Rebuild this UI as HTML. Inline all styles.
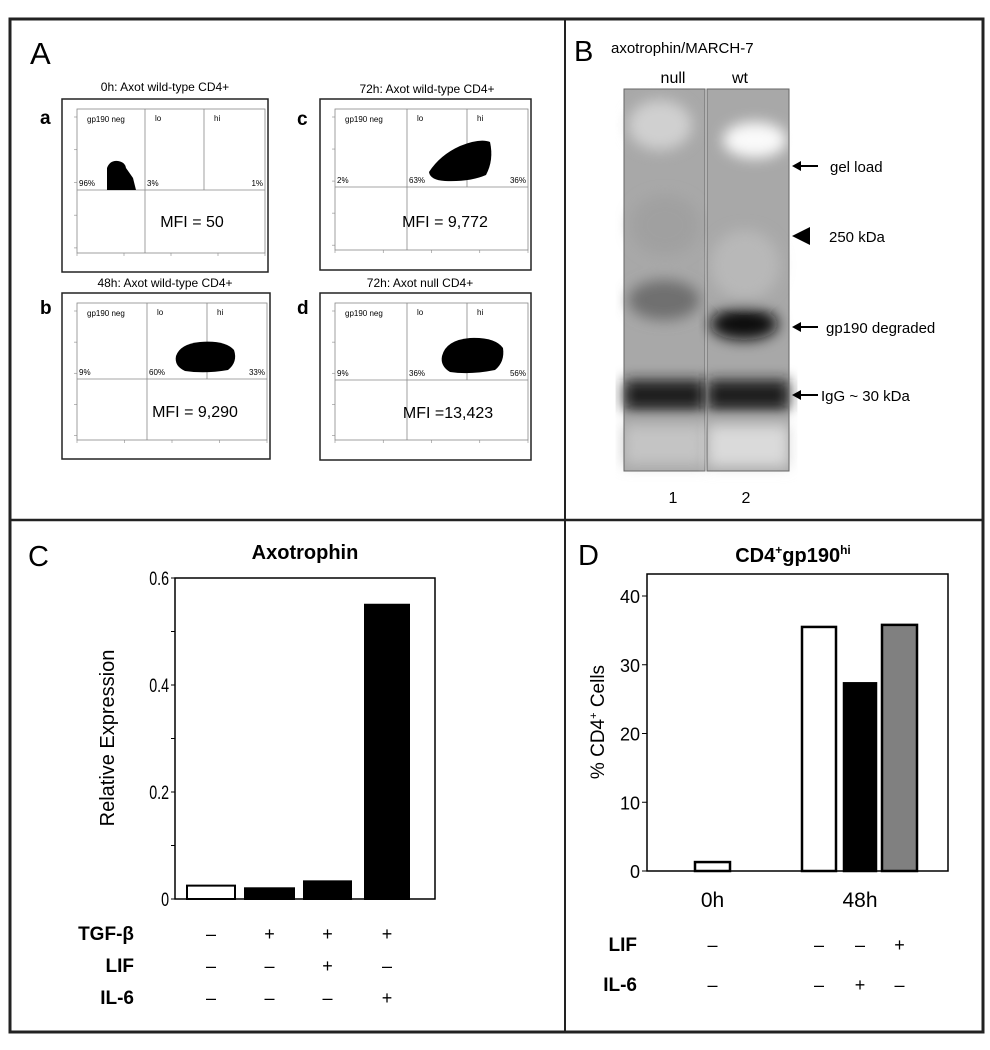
<!DOCTYPE html>
<html><head><meta charset="utf-8"><style>
html,body{margin:0;padding:0;background:#fff;}
svg{display:block;font-family:"Liberation Sans",Arial,sans-serif;}
</style></head><body>
<svg id="fig" width="990" height="1050" viewBox="0 0 990 1050">
<defs>
<filter id="blur6"><feGaussianBlur stdDeviation="7"/></filter>
</defs>
<rect x="0" y="0" width="990" height="1050" fill="#fff"/>
<g stroke="#222" fill="none">
<rect x="10" y="19" width="973" height="1013" stroke-width="3"/>
<line x1="565" y1="19" x2="565" y2="1032" stroke-width="2"/>
<line x1="10" y1="520" x2="983" y2="520" stroke-width="2.5"/>
</g>

<g>
<text x="30" y="64" font-size="31">A</text>
<g id="flowplots"></g>
</g>

<g>
<text x="574" y="61" font-size="29">B</text>
<text x="611" y="53" font-size="15">axotrophin/MARCH-7</text>
<text x="673" y="83" font-size="16" text-anchor="middle">null</text>
<text x="740" y="83" font-size="16" text-anchor="middle">wt</text>
<g>
<rect x="624" y="89" width="81" height="382" fill="#a8a8a8"/>
<g filter="url(#blur6)">
<ellipse cx="660" cy="125" rx="32" ry="25" fill="#d0d0d0"/>
<ellipse cx="665" cy="225" rx="35" ry="30" fill="#a0a0a0"/>
<ellipse cx="664" cy="300" rx="36" ry="20" fill="#707070"/>
<rect x="624" y="380" width="81" height="30" fill="#1a1a1a"/>
<rect x="624" y="425" width="81" height="40" fill="#c4c4c4"/>
</g>
<rect x="624" y="89" width="81" height="382" fill="none" stroke="#666"/>
</g>
<g>
<rect x="707" y="89" width="82" height="382" fill="#a8a8a8"/>
<g filter="url(#blur6)">
<ellipse cx="755" cy="140" rx="32" ry="18" fill="#fafafa"/>
<ellipse cx="745" cy="265" rx="35" ry="35" fill="#b8b8b8"/>
<ellipse cx="744" cy="324" rx="34" ry="16" fill="#111"/>
<rect x="707" y="380" width="82" height="30" fill="#1a1a1a"/>
<rect x="707" y="425" width="82" height="42" fill="#dadada"/>
</g>
<rect x="707" y="89" width="82" height="382" fill="none" stroke="#666"/>
</g>
<g font-size="15">
<line x1="797" y1="166" x2="818" y2="166" stroke="#000" stroke-width="2"/><path d="M792 166 l9 -5 v10z"/>
<text x="830" y="172">gel load</text>
<path d="M792 236 l18 -9 v18z"/><text x="829" y="242">250 kDa</text>
<line x1="797" y1="327" x2="818" y2="327" stroke="#000" stroke-width="2"/><path d="M792 327 l9 -5 v10z"/>
<text x="826" y="333">gp190 degraded</text>
<line x1="797" y1="395" x2="818" y2="395" stroke="#000" stroke-width="2"/><path d="M792 395 l9 -5 v10z"/>
<text x="821" y="401">IgG ~ 30 kDa</text>
</g>
<text x="673" y="503" font-size="16" text-anchor="middle">1</text>
<text x="746" y="503" font-size="16" text-anchor="middle">2</text>
</g>

<g>
<text x="28" y="566" font-size="29">C</text>
<text x="305" y="559" font-size="20" font-weight="bold" text-anchor="middle">Axotrophin</text>
<text transform="translate(114,738) rotate(-90)" font-size="20" text-anchor="middle">Relative Expression</text>
<g id="chartC"></g>
</g>

<g>
<text x="578" y="565" font-size="29">D</text>
<text x="793" y="562" font-size="20" font-weight="bold" text-anchor="middle">CD4<tspan font-size="12" dy="-8">+</tspan><tspan dy="8">gp190</tspan><tspan font-size="12" dy="-8">hi</tspan></text>
<text transform="translate(604,722) rotate(-90)" font-size="19" text-anchor="middle">% CD4<tspan font-size="11" dy="-7">+</tspan><tspan dy="7"> Cells</tspan></text>
<g id="chartD"></g>
</g>
</svg>
<script>
// ---- Chart C data ----
const cCategories = ["ctrl","TGF","TGF+LIF","TGF+IL6"];
const cValues = [0.025, 0.02, 0.033, 0.55];
const cFills = ["#fff","#000","#000","#000"];
const cTicks = [0, 0.2, 0.4, 0.6];
const cTickLabels = ["0","0.2","0.4","0.6"];
const cRowLabels = ["TGF-\u03b2","LIF","IL-6"];
const cTGF = ["\u2013","+","+","+"];
const cLIF = ["\u2013","\u2013","+","\u2013"];
const cIL6 = ["\u2013","\u2013","\u2013","+"];
// ---- Chart D data ----
const dCategories = ["0h","48h ctrl","48h IL-6","48h LIF"];
const dValues = [1.3, 35.5, 27.3, 35.8];
const dFills = ["#fff","#fff","#000","#808080"];
const dTicks = [0,10,20,30,40];
const dTickLabels = ["0","10","20","30","40"];
const dGroupLabels = ["0h","48h"];
const dRowLabels = ["LIF","IL-6"];
const dLIF = ["\u2013","\u2013","\u2013","+"];
const dIL6 = ["\u2013","\u2013","+","\u2013"];

const NS="http://www.w3.org/2000/svg";
function mk(tag,attrs,parent,text){const e=document.createElementNS(NS,tag);for(const k in attrs)e.setAttribute(k,attrs[k]);if(text!==undefined)e.textContent=text;parent.appendChild(e);return e;}

(function(){
 const g=document.getElementById('chartC');
 const L=175,R=435,T=578,B=899,max=0.6;
 const y=v=>B-(v/max)*(B-T);
 const bx=[187,245,304,365], bw=[48,49,47,44];
 const xc=i=>bx[i]+bw[i]/2;
 const box=mk('rect',{x:L,y:T,width:R-L,height:B-T,fill:'none',stroke:'#000','stroke-width':1.5},g);
 
 
 for(let v=0;v<=0.6001;v+=0.1){mk('line',{x1:L-4,x2:L,y1:y(v),y2:y(v),stroke:'#000'},g);}
 cTicks.forEach((t,i)=>{const tx=mk('text',{x:L-6,y:y(t)+7,'font-size':19,'text-anchor':'end',transform:`translate(${L-6},0) scale(0.75,1) translate(${-(L-6)},0)`},g,cTickLabels[i]);
  
  });
 cValues.forEach((v,i)=>{const r=mk('rect',{x:bx[i],y:y(v),width:bw[i],height:B-y(v),fill:cFills[i],stroke:'#000','stroke-width':2},g);
  
  });
 const rows=[cTGF,cLIF,cIL6], ry=[940,972,1004];
 rows.forEach((row,j)=>{
  const lb=mk('text',{x:134,y:ry[j],'font-size':19,'font-weight':'bold','text-anchor':'end'},g,cRowLabels[j]);
  
  
  row.forEach((s,i)=>{const t=mk('text',{x:xc(i),y:ry[j],'font-size':18,'text-anchor':'middle'},g,s);
   
   });
 });
})();

(function(){
 const g=document.getElementById('chartD');
 const L=647,R=948,T=574,B=871,max=40,yTop=596;
 const y=v=>B-(v/max)*(B-yTop);
 const bx=[695,802,844,882], bw=[35,34,32,35];
 const xc=i=>bx[i]+bw[i]/2;
 const box=mk('rect',{x:L,y:T,width:R-L,height:B-T,fill:'none',stroke:'#000','stroke-width':1.5},g);
 
 
 dTicks.forEach((t,i)=>{mk('line',{x1:L-5,x2:L,y1:y(t),y2:y(t),stroke:'#000'},g);
  const tx=mk('text',{x:L-7,y:y(t)+7,'font-size':18,'text-anchor':'end'},g,dTickLabels[i]);
  
  });
 dValues.forEach((v,i)=>{const r=mk('rect',{x:bx[i],y:y(v),width:bw[i],height:B-y(v),fill:dFills[i],stroke:'#000','stroke-width':2.5},g);
  
  });
 const gx=[xc(0),xc(2)];
 dGroupLabels.forEach((s,i)=>{const t=mk('text',{x:gx[i],y:907,'font-size':21,'text-anchor':'middle'},g,s);
  
  });
 const rows=[dLIF,dIL6], ry=[951,991];
 rows.forEach((row,j)=>{
  const lb=mk('text',{x:637,y:ry[j],'font-size':19,'font-weight':'bold','text-anchor':'end'},g,dRowLabels[j]);
  
  
  row.forEach((s,i)=>{const t=mk('text',{x:xc(i),y:ry[j],'font-size':18,'text-anchor':'middle'},g,s);
   
   });
 });
})();

(function(){
 const g=document.getElementById('flowplots');
 const plots=[
  {id:'a',title:'0h: Axot wild-type CD4+',tx:165,ty:91,ox:62,oy:99,ow:206,oh:173,ix:77,iy:109,iw:188,ih:144,v1:145,v2:204,h:190,mfi:'MFI = 50',mx:192,my:227,lx:40,ly:124,
   pct:['96%','3%','1%'],cloud:'M107 190 L107 168 Q110 160 118 161 Q125 162 126 168 L133 178 L136 190 Z'},
  {id:'c',title:'72h: Axot wild-type CD4+',tx:427,ty:93,ox:320,oy:99,ow:211,oh:171,ix:335,iy:109,iw:193,ih:141,v1:407,v2:467,h:187,mfi:'MFI = 9,772',mx:445,my:227,lx:297,ly:125,
   pct:['2%','63%','36%'],cloud:'M429 172 Q440 155 460 146 Q480 138 490 142 Q494 160 486 175 Q470 182 445 181 Q430 180 429 172 Z'},
  {id:'b',title:'48h: Axot wild-type CD4+',tx:165,ty:287,ox:62,oy:293,ow:208,oh:166,ix:77,iy:303,iw:190,ih:137,v1:147,v2:207,h:379,mfi:'MFI = 9,290',mx:195,my:417,lx:40,ly:314,
   pct:['9%','60%','33%'],cloud:'M176 356 Q180 344 200 342 Q225 340 234 350 Q238 362 228 370 Q205 374 185 371 Q174 366 176 356 Z'},
  {id:'d',title:'72h: Axot null CD4+',tx:420,ty:287,ox:320,oy:293,ow:211,oh:167,ix:335,iy:303,iw:193,ih:137,v1:407,v2:467,h:380,mfi:'MFI =13,423',mx:448,my:418,lx:297,ly:314,
   pct:['9%','36%','56%'],cloud:'M442 356 Q446 340 470 338 Q495 337 503 348 Q505 362 495 370 Q470 375 450 372 Q440 366 442 356 Z'}
 ];
 plots.forEach(p=>{
  const pg=mk('g',{},g);
  
  
  mk('text',{x:p.tx,y:p.ty,'font-size':12,'text-anchor':'middle'},pg,p.title);
  mk('text',{x:p.lx,y:p.ly,'font-size':19,'font-weight':'bold'},pg,p.id);
  mk('rect',{x:p.ox,y:p.oy,width:p.ow,height:p.oh,fill:'none',stroke:'#222','stroke-width':1.5},pg);
  mk('rect',{x:p.ix,y:p.iy,width:p.iw,height:p.ih,fill:'none',stroke:'#888','stroke-width':0.8},pg);
  mk('line',{x1:p.v1,x2:p.v1,y1:p.iy,y2:p.iy+p.ih,stroke:'#888','stroke-width':0.8},pg);
  mk('line',{x1:p.v2,x2:p.v2,y1:p.iy,y2:p.h,stroke:'#888','stroke-width':0.8},pg);
  mk('line',{x1:p.ix,x2:p.ix+p.iw,y1:p.h,y2:p.h,stroke:'#888','stroke-width':0.8},pg);
  mk('text',{x:p.ix+10,y:p.iy+13,'font-size':8},pg,'gp190 neg');
  mk('text',{x:p.v1+10,y:p.iy+12,'font-size':8},pg,'lo');
  mk('text',{x:p.v2+10,y:p.iy+12,'font-size':8},pg,'hi');
  mk('text',{x:p.ix+2,y:p.h-4,'font-size':8},pg,p.pct[0]);
  mk('text',{x:p.v1+2,y:p.h-4,'font-size':8},pg,p.pct[1]);
  mk('text',{x:p.ix+p.iw-2,y:p.h-4,'font-size':8,'text-anchor':'end'},pg,p.pct[2]);
  mk('path',{d:p.cloud,fill:'#000'},pg);
  mk('text',{x:p.mx,y:p.my,'font-size':16,'text-anchor':'middle'},pg,p.mfi);
  for(let k=0;k<5;k++){mk('line',{x1:p.ix-3,x2:p.ix,y1:p.iy+8+k*p.ih/4.4,y2:p.iy+8+k*p.ih/4.4,stroke:'#888','stroke-width':0.6},pg);
   mk('line',{x1:p.ix+k*p.iw/4,x2:p.ix+k*p.iw/4,y1:p.iy+p.ih,y2:p.iy+p.ih+3,stroke:'#888','stroke-width':0.6},pg);}
 });
})();
</script>
</body></html>
